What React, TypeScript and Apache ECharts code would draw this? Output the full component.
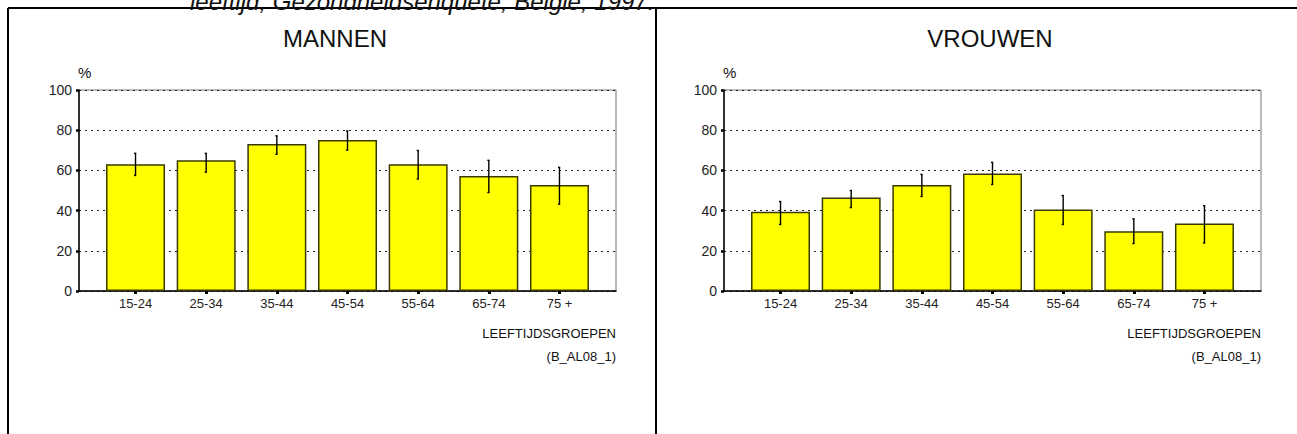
import React, { useEffect, useRef } from "react";
import * as echarts from "echarts";

const categories = ["15-24", "25-34", "35-44", "45-54", "55-64", "65-74", "75 +"];
const menValues = [63.0, 65.0, 73.1, 75.1, 63.0, 57.2, 52.7];
const menLow = [57.5, 59.1, 68.0, 70.1, 55.7, 49.0, 43.2];
const menHigh = [68.5, 68.5, 77.2, 79.6, 69.9, 65.0, 61.5];
const womenValues = [39.4, 46.5, 52.7, 58.5, 40.6, 29.7, 33.6];
const womenLow = [33.1, 41.5, 47.0, 53.0, 33.1, 23.6, 23.9];
const womenHigh = [44.5, 50.0, 58.0, 64.0, 47.5, 35.9, 42.4];
const yTicks = [0, 20, 40, 60, 80, 100];
const panelTitles = ["MANNEN", "VROUWEN"];
const headerText = "leeftijd, Gezondheidsenquête, België, 1997.";
const xAxisTitle = "LEEFTIJDSGROEPEN";
const codeText = "(B_AL08_1)";

const FONT = "'Liberation Sans', Arial, sans-serif";

export default function App() {
  const ref = useRef<HTMLDivElement>(null);
  useEffect(() => {
    if (!ref.current) return;
    const chart = echarts.init(ref.current, null, { renderer: "svg" });
    const idx = categories.map((_, i) => i);
    const grids = [
      { left: 79, top: 90, width: 537, height: 201 },
      { left: 724, top: 90, width: 537, height: 201 },
    ];
    const xAxisFor = (gi: number) => ({
      type: "value",
      gridIndex: gi,
      min: -0.8,
      max: 6.8,
      splitLine: { show: false },
      axisLine: { show: true, onZero: false, lineStyle: { color: "#000", width: 1.5 } },
      axisTick: {
        show: true,
        customValues: idx,
        length: 3,
        lineStyle: { color: "#000", width: 3 },
      },
      axisLabel: {
        customValues: idx,
        formatter: (v: number) => categories[Math.round(v)] ?? "",
        fontFamily: FONT,
        fontSize: 13,
        color: "#222",
        margin: 6,
      },
    });
    const yAxisFor = (gi: number) => ({
      type: "value",
      gridIndex: gi,
      min: 0,
      max: 100,
      interval: 20,
      axisLine: { show: true, onZero: false, lineStyle: { color: "#000", width: 1.5 } },
      axisTick: { show: true, length: 3, lineStyle: { color: "#000", width: 2.5 } },
      axisLabel: {
        fontFamily: FONT,
        fontSize: 14,
        color: "#222",
        margin: 7,
        formatter: (v: number) => (yTicks.includes(v) ? String(v) : ""),
      },
      splitLine: {
        show: true,
        lineStyle: { color: "#222", width: 1, type: [2, 4] },
      },
    });
    const errRender = (params: any, api: any) => {
      const x = api.value(0);
      const lo = api.value(1);
      const hi = api.value(2);
      const p1 = api.coord([x, hi]);
      const p2 = api.coord([x, lo]);
      const st = { stroke: "#000", lineWidth: 1.4 };
      return {
        type: "group",
        children: [
          { type: "line", shape: { x1: p1[0], y1: p1[1], x2: p2[0], y2: p2[1] }, style: st },
          { type: "line", shape: { x1: p1[0] - 1.5, y1: p1[1], x2: p1[0] + 0.7, y2: p1[1] }, style: st },
          { type: "line", shape: { x1: p2[0] - 1.5, y1: p2[1], x2: p2[0] + 0.7, y2: p2[1] }, style: st },
        ],
      };
    };
    const barSeries = (gi: number, vals: number[]) => ({
      type: "bar",
      xAxisIndex: gi,
      yAxisIndex: gi,
      barWidth: 59,
      data: vals.map((v, i) => [i, v]),
      itemStyle: { color: "#ffff00", borderColor: "#3a3a00", borderWidth: 1.5 },
      z: 2,
    });
    const errSeries = (gi: number, lo: number[], hi: number[]) => ({
      type: "custom",
      xAxisIndex: gi,
      yAxisIndex: gi,
      renderItem: errRender,
      data: lo.map((l, i) => [i, l, hi[i]]),
      z: 5,
    });
    const textEl = (x: number, y: number, text: string, size: number, align: string, extra: any = {}) => ({
      type: "text",
      x,
      y,
      z: 10,
      style: {
        text,
        fontFamily: FONT,
        fontSize: size,
        fill: "#111",
        align,
        verticalAlign: "middle",
        ...extra,
      },
    });
    const lineEl = (x1: number, y1: number, x2: number, y2: number) => ({
      type: "line",
      z: 10,
      shape: { x1, y1, x2, y2 },
      style: { stroke: "#000", lineWidth: 2 },
    });
    chart.setOption({
      animation: false,
      backgroundColor: "#fff",
      grid: grids.map((g) => ({ ...g, show: true, borderColor: "#777", borderWidth: 1, backgroundColor: "transparent" })),
      xAxis: [xAxisFor(0), xAxisFor(1)],
      yAxis: [yAxisFor(0), yAxisFor(1)],
      series: [
        barSeries(0, menValues),
        errSeries(0, menLow, menHigh),
        barSeries(1, womenValues),
        errSeries(1, womenLow, womenHigh),
      ],
      graphic: [
        lineEl(8, 8, 1297, 8),
        lineEl(8, 8, 8, 434),
        lineEl(656, 8, 656, 434),
        textEl(190, 1, headerText, 24, "left", { fontStyle: "italic" }),
        textEl(335, 38, panelTitles[0], 24, "center"),
        textEl(990, 38, panelTitles[1], 24, "center"),
        textEl(78, 72, "%", 15, "left"),
        textEl(723, 72, "%", 15, "left"),
        textEl(616, 333, xAxisTitle, 13, "right"),
        textEl(616, 356, codeText, 13, "right"),
        textEl(1261, 333, xAxisTitle, 13, "right"),
        textEl(1261, 356, codeText, 13, "right"),
      ],
    });
    return () => chart.dispose();
  }, []);
  return (
    <div
      ref={ref}
      style={{ position: "fixed", left: 0, top: 0, width: 1297, height: 434 }}
    />
  );
}
